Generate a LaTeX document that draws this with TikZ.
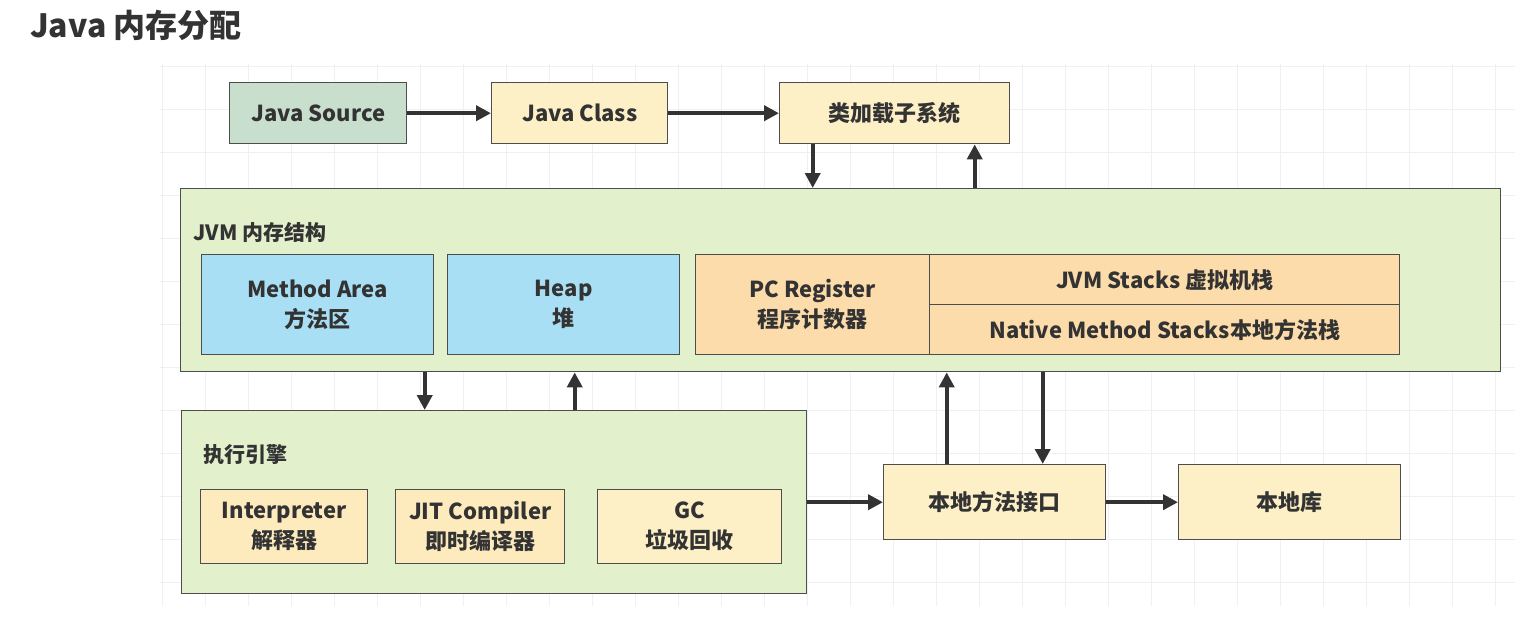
\documentclass[tikz,border=0pt]{standalone}
\usepackage{fontspec}
\setmainfont{Noto Sans CJK SC}
\usetikzlibrary{arrows.meta,positioning,calc}
\definecolor{txt}{HTML}{333333}
\definecolor{bd}{HTML}{4D4D4D}
\definecolor{srcfill}{HTML}{C9DFCD}
\definecolor{yel}{HTML}{FDF0C6}
\definecolor{yel2}{HTML}{FDEBBE}
\definecolor{grn}{HTML}{E3F0CC}
\definecolor{blu}{HTML}{A9DFF4}
\definecolor{org}{HTML}{FCDCAA}
\definecolor{gridc}{HTML}{F0F0F0}
\tikzset{
  box/.style={draw=bd, line width=1.4pt, inner sep=0pt, anchor=north west,
    text=txt, font=\bfseries\fontsize{22}{30}\selectfont, align=center},
  arr/.style={draw=txt, line width=4.4pt, -{Triangle[length=15pt,width=15pt]}},
  lbl/.style={text=txt, font=\bfseries\fontsize{21}{26}\selectfont, anchor=west, inner sep=0pt},
}
\begin{document}
\begin{tikzpicture}[x=1pt,y=-1pt]
\useasboundingbox (0,0) rectangle (1528,622);
\fill[white] (0,0) rectangle (1528,622);
% faint grid
\foreach \gx in {162,205,...,1515} \draw[gridc, line width=0.8pt] (\gx,64) -- (\gx,606);
\foreach \gy in {66,109,...,606} \draw[gridc, line width=0.8pt] (160,\gy) -- (1515,\gy);
% title
\node[text=txt, font=\bfseries\fontsize{32}{38}\selectfont, anchor=west, inner sep=0pt] (title) at (30,25) {Java 内存分配};
% top row
\node[box, fill=srcfill, minimum width=177pt, minimum height=61pt] (src) at (229,82) {Java Source};
\node[box, fill=yel, minimum width=176pt, minimum height=61pt] (cls) at (491,82) {Java Class};
\node[box, fill=yel, minimum width=230pt, minimum height=61pt] (ldr) at (779,82) {类加载子系统};
% JVM container
\node[box, fill=grn, minimum width=1320pt, minimum height=183pt] (jvm) at (180,188) {};
\node[lbl] (jvmlbl) at (193,232) {JVM 内存结构};
\node[box, fill=blu, minimum width=232pt, minimum height=100pt] (ma) at (201,254) {Method Area\\方法区};
\node[box, fill=blu, minimum width=232pt, minimum height=100pt] (heap) at (447,254) {Heap\\堆};
\node[box, fill=org, minimum width=234pt, minimum height=100pt] (pc) at (695,254) {PC Register\\程序计数器};
\node[box, fill=org, minimum width=470pt, minimum height=50pt] (vms) at (929,254) {JVM Stacks 虚拟机栈};
\node[box, fill=org, minimum width=470pt, minimum height=50pt] (nms) at (929,304) {Native Method Stacks本地方法栈};
% execution engine
\node[box, fill=grn, minimum width=625pt, minimum height=183pt] (exe) at (181,410) {};
\node[lbl] (exelbl) at (203,455) {执行引擎};
\node[box, fill=yel2, minimum width=167pt, minimum height=74pt] (itp) at (200,489) {Interpreter\\解释器};
\node[box, fill=yel2, minimum width=169pt, minimum height=74pt] (jit) at (395,489) {JIT Compiler\\即时编译器};
\node[box, fill=yel, minimum width=184pt, minimum height=74pt] (gc) at (597,489) {GC\\垃圾回收};
% native
\node[box, fill=yel, minimum width=222pt, minimum height=75pt] (nmi) at (883,464) {本地方法接口};
\node[box, fill=yel, minimum width=222pt, minimum height=75pt] (lib) at (1178,464) {本地库};
% arrows
\draw[arr] (src.east) -- (cls.west);
\draw[arr] (cls.east) -- (ldr.west);
\coordinate (a1) at ([xshift=-82pt]ldr.south);
\coordinate (a2) at ([xshift=80pt]ldr.south);
\draw[arr] (a1) -- (a1 |- jvm.north);
\draw[arr] (a2 |- jvm.north) -- (a2);
\coordinate (b1) at ([xshift=-69.5pt]exe.north);
\coordinate (b2) at ([xshift=80.5pt]exe.north);
\draw[arr] (b1 |- jvm.south) -- (b1);
\draw[arr] (b2) -- (b2 |- jvm.south);
\coordinate (c1) at ([xshift=-48pt]nmi.north);
\coordinate (c2) at ([xshift=48pt]nmi.north);
\draw[arr] (c1) -- (c1 |- jvm.south);
\draw[arr] (c2 |- jvm.south) -- (c2);
\draw[arr] (exe.east |- nmi.west) -- (nmi.west);
\draw[arr] (nmi.east) -- (lib.west);
\end{tikzpicture}
\end{document}
